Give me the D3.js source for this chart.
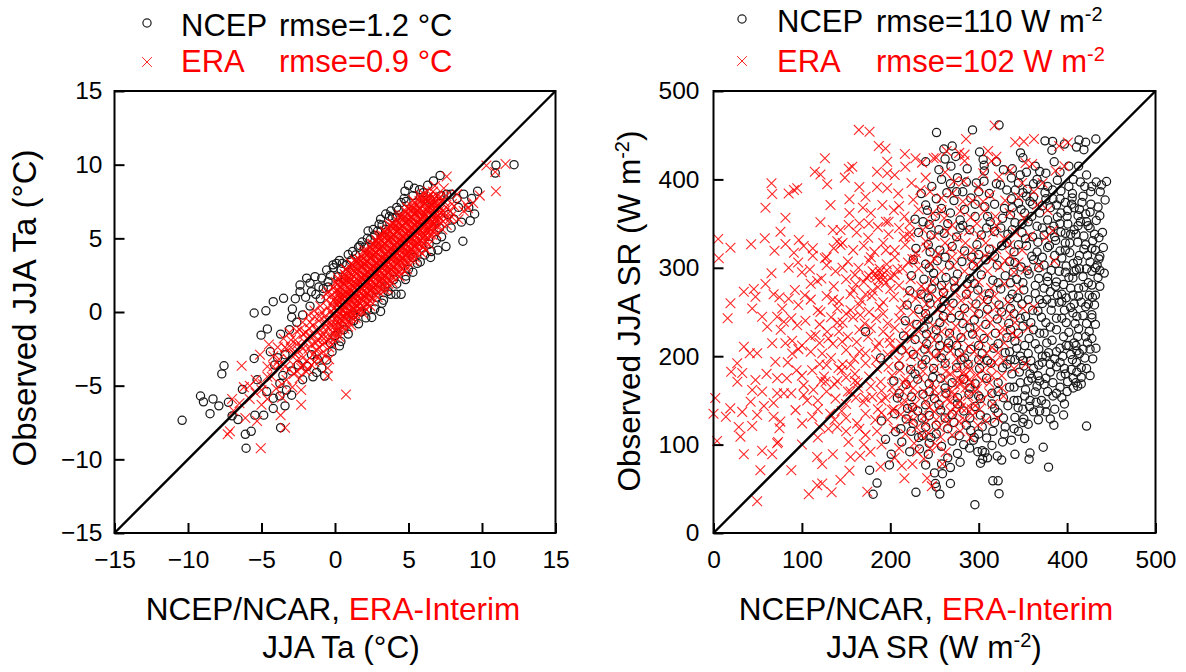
<!DOCTYPE html>
<html>
<head>
<meta charset="utf-8">
<script src="https://cdn.jsdelivr.net/npm/d3@7"></script>
<style>
    html, body { margin: 0; padding: 0; background: #fff; }
    svg { display: block; }
    text { font-family: "Liberation Sans", Arial, sans-serif; }
    .tick text { font-size: 24.5px; fill: #000; }
    .legend { font-size: 31px; }
    .title { font-size: 31.5px; }
</style>
</head>
<body>
<script>
// tick labels and limits
const taTicks = [-15, -10, -5, 0, 5, 10, 15];
const srTicks = [0, 100, 200, 300, 400, 500];
const taDomain = [-15, 15];
const srDomain = [0, 500];

// legend texts
const taLegend = [['NCEP', 'rmse=1.2 °C', ''], ['ERA', 'rmse=0.9 °C', '']];
const srLegend = [['NCEP', 'rmse=110 W m', '-2'], ['ERA', 'rmse=102 W m', '-2']];

// Ta panel, points: [reanalysis, observed]
const taNcep = [[-0.13,3.2],[-0.57,2.85],[-1.36,2.4],[-1.93,2.3],[-0.9,2.3],[-2.38,1.83],[-2.38,1.38],[-1.7,1.96],[-1.6,1.38],[-0.47,2.05],[-0.47,1.7],
[-3.5,0.93],[-4.2,0.7],[-4.7,0.08],[-5.5,-0.07],[-2.95,-0.35],[-4.6,-1.15],[-5.03,-1.57],[-5.5,-3.15],[-7.55,-3.65],[-7.7,-4.2],[-6.3,-5.25],
[-9.15,-5.7],[-8.95,-6.1],[-8.3,-5.9],[-7.9,-6.37],[-7.25,-6.13],[-8.5,-6.9],[-10.4,-7.35],[-7.0,-7.05],[-6.6,-7.3],[-5.45,-7],[-4.85,-7],
[-4.2,-6.55],[-3.4,-6.37],[-3.7,-7.85],[-5.7,-8.1],[-6.1,-8.3],[-6.05,-9.25],[-0.57,-3.26],[-0.7,-4.35],[-1.25,-4.1],[-1.9,-3.7],[-2.95,-5.65],
[-3.75,-5.7],[-4.2,-5.85],[-3.3,-5.3],[-3.75,-4.85],[-4.65,-5.4],[-5.3,-4.6],[-2.95,-4],[-3.55,-4.3],[-4.1,-3.6],[-3.4,-2.9],[-4.4,-2.7],[-3.1,-1.2],
[-2.6,-0.7],[-3.7,-1.5],[-2.2,-0.2],[-1.7,0.4],[-1,0.9],[-2.9,0.2],[-1.3,1.2],[-3.9,-3.1],[-2.5,-3.6],[-1.6,-2.9],[-2.2,-4.6],[-1.2,-3.2],
[12.18,10],[10.95,9.97],[10.9,9.43],[9.7,8.2],[9.5,6.65],[9.2,6.2],[8.7,4.8],[7.55,4.44],[7.15,9.27],[5,8.6],[4.76,8.2],[5.75,8.3],[4.5,7.43],
[3.8,6.85],[3.45,6.65],[3,5.95],[2.25,5.5],[3.45,5.6],[1.85,4.75],[1.4,3.87],[0.8,3.2],[-0.1,3],[4.15,6.45],[4.83,7.5],[7.6,8],[8.75,8],[7.25,5.1],
[6.55,4.1],[6.1,3.87],[4.5,1.2],[4.15,1.2],[3.3,0.8],[3.1,0.04],[2.5,-0.37],[1.27,-0.6],[4,2.2],[4.83,2.45],[6.3,8.6],[6.7,8.9],[5.3,7.9],[6,8.1],
[2.7,5.2],[2,4.4],[1.1,3.5],[0.4,2.9],[0.1,3.3],[2.9,5.5],[3.1,6.3],[3.9,6.4],[4.3,6.9],[1.6,4.4],[2.4,4.9],[0.9,3.9],[0.2,2.4],[1.2,-0.2],[0.6,-1.2],
[0,-1.6],[-0.3,-2.1],[0.3,-2.3],[1.8,0],[2.2,0.2],[2.8,1],[3.6,1.4],[3.4,1.7],[5,2.9],[5.6,3.3],[5.3,3.7],[6.4,4.6],[6.9,4.9],[7.1,5.7],[7.9,5.7],
[8.1,6.3],[8.6,6.1],[8.4,7.1],[7.7,6.6],[9.1,7.1],[8.3,7.7],[7.9,8],[7.2,7.9],[6.5,7.6],[9.3,7.7],
[0.5,3.3],[1.2,4.1],[1.7,4.5],[2.2,5],[2.6,5.6],[3.2,5.9],[3.7,6.5],[4.2,7.1],[4.7,7.7],[5.4,8.4],[-0.8,1.6],[-1.1,1.7],[-0.3,2.5],[0.3,3.5],[-2,1],[-2.7,0.9],
[0.9,-1.5],[1.6,-0.8],[2.1,-0.4],[2.7,0.2],[3.2,0.6],[3.8,1.2],[4.2,1.9],[4.8,2.2],[5.3,2.7],[5.8,3.4],[6.5,3.7],[7,4.2],[-0.9,-3.8],[-1.5,-4.4],[-0.2,-2.7],[0.4,-2]];

const taEra = [[-6.35,-3.65],[-5.1,-2.9],[-4.5,-2.2],[-0.4,-3.2],[-0.5,-3.8],[-0.5,-4.35],[0.75,-5.6],[-2.3,-6.3],[-3.7,-7],[-3.4,-7.85],[-7.15,-8.1],[-7.3,-8.3],
[-5.05,-9.25],[-5.3,-7.4],[-6.1,-7.2],[-6.9,-6.7],[-7,-5.9],[-6.2,-5.1],[-2.3,-5.3],[11.6,10.05],[10.3,9.95],[10.9,9.5],[10.95,8.2],[9.85,7.9],[9.4,7.4],
[7.6,9.2],[6.8,8.55],[8.3,8],[8.75,6.85],[7.4,8.4],[8.9,7.3],[8.1,7.2],[7.9,6.5],[8.4,6.3],[7.6,5.9],[9.05,7.05],
[-5.8,-5.9],[-5.4,-5.5],[-6.5,-6.2],[-5,-6.3],[-4.6,-5.9],[-4.9,-4.9],[-4.3,-4.4],[-4.6,-3.7],[-4,-5.2],[-3.6,-5.8],[-4.2,-3],[-3.9,-2.4],[-3.5,-1.8],[-3.8,-3.6],
[-3.3,-4.6],[-2.9,-5.1],[-3.2,-3.2],[-2.8,-4.2],[-3,-2.4],[-2.6,-3.3],[-3.1,-1.4],[-2.7,-1.9],[-2.4,-4.5],[-2.3,-3.8],[-2.5,-2.6],[-2.2,-3.1],[-2.4,-1.2],[-2.1,-2],
[-2,-4],[-1.9,-3.3],[-1.8,-2.5],[-2,-1.4],[-1.7,-0.7],[-1.6,-3.6],[-1.5,-2.9],[-1.6,-2.2],[-1.4,-1.6],[-1.5,-0.9],[-1.4,-0.3],[-1.2,-3],[-1.1,-2.4],[-1.2,-1.9],[-1,-1.2],
[-1.1,-0.6],[-0.9,0],[-0.9,-2.8],[-0.7,-2.1],[-0.8,-1.5],[-0.6,-0.9],[-0.7,-0.3],[-0.5,0.3],[-0.6,0.8],[-0.4,-2.4],[-0.3,-1.7],[-0.4,-1.1],[-0.2,-0.6],[-0.3,0],[-0.2,0.5],[-0.3,1.1],
[-1.9,-1.8],[-1.75,-1.1],[-1.3,-2.6],[-1.25,-1.25],[-1.05,-0.3],[-0.85,-2.2],[-0.75,-1.8],[-0.65,-1.2],[-0.5,-0.6],[-0.45,-1.9],[-0.35,-0.9],[-0.15,-1.4],[-0.15,-0.25],[-0.1,0.8],[-0.45,1.4],
[-2.8,-2.8],[-3.4,-3.7],[-2.2,-2.5],[-2.6,-2.2],[-3.3,-2.5],[-2.15,-1.5],
[0.02,-1.7],[0.12,-1.22],[-0.08,-0.98],[0.1,-0.53],[-0.03,-0.16],[-0.1,0.24],[0.13,0.6],[0.02,0.94],[0.11,1.41],[-0.12,1.63],[0.05,2.03],
[0.31,-1.24],[0.24,-0.83],[0.38,-0.47],[0.27,-0.08],[0.35,0.28],[0.26,0.64],[0.36,1.04],[0.28,1.37],[0.33,1.73],[0.25,2.14],
[0.64,-1.13],[0.57,-0.66],[0.68,-0.33],[0.55,0.04],[0.63,0.41],[0.69,0.77],[0.54,1.14],[0.61,1.47],[0.66,1.92],[0.58,2.23],[0.65,2.58],
[0.93,-0.63],[0.85,-0.17],[0.95,0.13],[0.88,0.52],[0.97,0.87],[0.84,1.23],[0.92,1.58],[0.99,2.04],[0.86,2.31],[0.94,2.72],
[1.23,-0.48],[1.14,-0.12],[1.26,0.27],[1.17,0.64],[1.28,1.03],[1.13,1.38],[1.22,1.73],[1.27,2.07],[1.16,2.53],[1.25,2.82],[1.19,3.18],
[1.53,0.03],[1.46,0.37],[1.57,0.74],[1.44,1.12],[1.55,1.47],[1.48,1.83],[1.58,2.17],[1.43,2.62],[1.52,2.88],[1.56,3.34],
[1.83,0.12],[1.74,0.54],[1.86,0.87],[1.77,1.23],[1.85,1.63],[1.73,1.97],[1.84,2.33],[1.78,2.68],[1.87,3.12],[1.75,3.42],[1.82,3.76],
[2.13,0.58],[2.05,1.02],[2.16,1.27],[2.04,1.73],[2.14,2.07],[2.08,2.44],[2.17,2.77],[2.06,3.23],[2.12,3.48],[2.15,3.93],
[2.43,0.72],[2.35,1.08],[2.46,1.53],[2.33,1.77],[2.45,2.23],[2.37,2.57],[2.44,2.94],[2.38,3.27],[2.47,3.72],[2.34,3.98],[2.42,4.42],
[2.73,1.17],[2.65,1.63],[2.76,1.87],[2.64,2.33],[2.74,2.68],[2.67,3.04],[2.77,3.37],[2.66,3.83],[2.72,4.07],[2.75,4.53],
[3.03,1.33],[2.95,1.67],[3.06,2.13],[2.94,2.37],[3.05,2.83],[2.97,3.17],[3.04,3.53],[2.96,3.87],[3.07,4.32],[2.93,4.58],[3.02,5.03],
[3.33,1.77],[3.25,2.23],[3.36,2.47],[3.24,2.93],[3.34,3.27],[3.27,3.64],[3.37,3.97],[3.26,4.43],[3.32,4.67],[3.35,5.13],
[3.63,1.92],[3.55,2.27],[3.66,2.73],[3.54,2.97],[3.65,3.43],[3.57,3.77],[3.64,4.13],[3.56,4.47],[3.67,4.93],[3.53,5.18],[3.62,5.63],
[3.93,2.37],[3.85,2.83],[3.96,3.07],[3.84,3.53],[3.94,3.87],[3.87,4.24],[3.97,4.57],[3.86,5.03],[3.92,5.27],[3.95,5.73],
[4.23,2.52],[4.15,2.87],[4.26,3.33],[4.14,3.57],[4.25,4.03],[4.17,4.37],[4.24,4.73],[4.16,5.07],[4.27,5.53],[4.13,5.78],[4.22,6.23],
[4.53,2.97],[4.45,3.43],[4.56,3.67],[4.44,4.13],[4.54,4.47],[4.47,4.84],[4.57,5.17],[4.46,5.63],[4.52,5.87],[4.55,6.33],
[4.83,3.12],[4.75,3.47],[4.86,3.93],[4.74,4.17],[4.85,4.63],[4.77,4.97],[4.84,5.33],[4.76,5.67],[4.87,6.13],[4.73,6.38],[4.82,6.83],
[5.13,3.57],[5.05,4.03],[5.16,4.27],[5.04,4.73],[5.14,5.07],[5.07,5.44],[5.17,5.77],[5.06,6.23],[5.12,6.47],[5.15,6.93],
[5.43,3.72],[5.35,4.07],[5.46,4.53],[5.34,4.77],[5.45,5.23],[5.37,5.57],[5.44,5.93],[5.36,6.27],[5.47,6.73],[5.33,6.98],[5.42,7.43],
[5.73,4.17],[5.65,4.63],[5.76,4.87],[5.64,5.33],[5.74,5.67],[5.67,6.04],[5.77,6.37],[5.66,6.83],[5.72,7.07],[5.75,7.53],
[6.03,4.42],[5.95,4.77],[6.06,5.13],[5.94,5.43],[6.05,5.83],[5.97,6.17],[6.04,6.53],[5.96,6.87],[6.07,7.33],[5.93,7.58],[6.02,8.03],
[6.33,5.02],[6.25,5.33],[6.36,5.73],[6.24,6.07],[6.34,6.43],[6.27,6.84],[6.37,7.17],[6.26,7.53],[6.32,7.83],
[6.63,5.22],[6.55,5.57],[6.66,5.93],[6.54,6.27],[6.65,6.63],[6.57,7.03],[6.64,7.33],[6.56,7.73],[6.67,8.17],
[6.93,5.83],[6.85,6.17],[6.96,6.53],[6.84,6.93],[6.94,7.23],[6.87,7.53],[6.97,7.87],
[7.23,6.03],[7.15,6.37],[7.26,6.73],[7.14,7.13],[7.24,7.43],[7.17,7.83],[7.53,6.33],[7.45,6.73],[7.56,7.13],[7.44,7.47],[7.57,7.88],[7.85,6.83],[7.95,7.33],
// second pass through the solid part of the band
[0.16,-1.43],[0.19,-1.02],[0.14,-0.68],[0.17,-0.31],[0.18,0.07],[0.15,0.42],[0.19,0.77],[0.16,1.13],[0.18,1.53],[0.14,1.86],
[0.47,-0.93],[0.43,-0.58],[0.49,-0.27],[0.44,0.14],[0.48,0.46],[0.42,0.83],[0.46,1.22],[0.43,1.63],[0.49,2.02],[0.45,2.37],
[0.76,-0.84],[0.72,-0.42],[0.78,-0.06],[0.73,0.32],[0.77,0.68],[0.71,1.03],[0.75,1.33],[0.74,1.74],[0.79,2.13],[0.72,2.48],[0.77,2.87],
[1.07,-0.28],[1.03,0.06],[1.08,0.43],[1.04,0.82],[1.06,1.14],[1.02,1.52],[1.09,1.88],[1.05,2.23],[1.03,2.63],[1.08,2.97],
[1.37,-0.13],[1.33,0.21],[1.38,0.57],[1.32,0.88],[1.36,1.27],[1.34,1.63],[1.39,2.02],[1.31,2.38],[1.37,2.77],[1.33,3.08],[1.36,3.52],
[1.67,0.27],[1.63,0.63],[1.69,0.96],[1.62,1.37],[1.66,1.72],[1.64,2.04],[1.68,2.43],[1.61,2.82],[1.67,3.17],[1.64,3.58],
[1.97,0.33],[1.93,0.76],[1.99,1.12],[1.92,1.42],[1.96,1.83],[1.94,2.17],[1.98,2.52],[1.91,2.93],[1.97,3.28],[1.93,3.63],[1.96,4.02],
[2.27,0.86],[2.23,1.24],[2.29,1.57],[2.22,1.96],[2.26,2.33],[2.24,2.67],[2.28,3.03],[2.21,3.42],[2.27,3.77],[2.23,4.16],
[2.57,0.97],[2.53,1.36],[2.59,1.72],[2.52,2.02],[2.56,2.43],[2.54,2.77],[2.58,3.13],[2.51,3.53],[2.57,3.88],[2.53,4.23],[2.56,4.63],
[2.87,1.46],[2.83,1.84],[2.89,2.17],[2.82,2.56],[2.86,2.93],[2.84,3.27],[2.88,3.63],[2.81,4.02],[2.87,4.37],[2.83,4.76],
[3.17,1.57],[3.13,1.96],[3.19,2.32],[3.12,2.62],[3.16,3.03],[3.14,3.37],[3.18,3.73],[3.11,4.13],[3.17,4.48],[3.13,4.83],[3.16,5.23],
[3.47,2.06],[3.43,2.44],[3.49,2.77],[3.42,3.16],[3.46,3.53],[3.44,3.87],[3.48,4.23],[3.41,4.62],[3.47,4.97],[3.43,5.36],
[3.77,2.17],[3.73,2.56],[3.79,2.92],[3.72,3.22],[3.76,3.63],[3.74,3.97],[3.78,4.33],[3.71,4.73],[3.77,5.08],[3.73,5.43],[3.76,5.83],
[4.07,2.66],[4.03,3.04],[4.09,3.37],[4.02,3.76],[4.06,4.13],[4.04,4.47],[4.08,4.83],[4.01,5.22],[4.07,5.57],[4.03,5.96],
[4.37,2.77],[4.33,3.16],[4.39,3.52],[4.32,3.82],[4.36,4.23],[4.34,4.57],[4.38,4.93],[4.31,5.33],[4.37,5.68],[4.33,6.03],[4.36,6.43],
[4.67,3.26],[4.63,3.64],[4.69,3.97],[4.62,4.36],[4.66,4.73],[4.64,5.07],[4.68,5.43],[4.61,5.82],[4.67,6.17],[4.63,6.56],
[4.97,3.37],[4.93,3.76],[4.99,4.12],[4.92,4.42],[4.96,4.83],[4.94,5.17],[4.98,5.53],[4.91,5.93],[4.97,6.28],[4.93,6.63],[4.96,7.03],
[5.27,3.86],[5.23,4.24],[5.29,4.57],[5.22,4.96],[5.26,5.33],[5.24,5.67],[5.28,6.03],[5.21,6.42],[5.27,6.77],[5.23,7.16],
[5.57,3.97],[5.53,4.36],[5.59,4.72],[5.52,5.02],[5.56,5.43],[5.54,5.77],[5.58,6.13],[5.51,6.53],[5.57,6.88],[5.53,7.23],
[5.87,4.46],[5.83,4.84],[5.89,5.17],[5.82,5.56],[5.86,5.93],[5.84,6.27],[5.88,6.63],[5.81,7.02],[5.87,7.37],[5.83,7.76],
[6.17,4.77],[6.13,5.16],[6.19,5.52],[6.12,5.82],[6.16,6.23],[6.14,6.57],[6.18,6.93],[6.11,7.33],[6.17,7.68],
[6.47,5.26],[6.43,5.64],[6.49,5.97],[6.42,6.36],[6.46,6.73],[6.44,7.07],[6.48,7.43],[6.41,7.82],
[6.77,5.57],[6.73,5.96],[6.79,6.32],[6.72,6.62],[6.76,7.03],[6.74,7.37],[6.78,7.73],[7.07,6.16],[7.03,6.54],[7.09,6.87],[7.02,7.26],[7.06,7.63],
// band rims and the lower tail
[0.2,2.3],[0.7,2.9],[1.1,3.3],[1.6,3.6],[2,4.2],[2.5,4.6],[3,5.2],[3.4,5.5],[3.9,6],[4.4,6.6],[4.9,7.1],[5.3,7.6],[5.8,7.9],[6.3,8.2],[3.7,5.9],[2.8,4.9],[1.4,3.4],
[0.3,-1.7],[0.9,-1],[1.4,-0.4],[1.9,-0.1],[2.4,0.4],[2.9,1],[3.4,1.5],[3.9,2],[4.4,2.4],[4.9,2.9],[5.4,3.5],[5.9,4],[6.4,4.6],[6.9,5.3],[7.3,5.6],[7.8,6.3],[1.1,-0.9],[2.1,0.2],[3.6,1.6],[4.7,2.8],[6.2,4.2],
[-1,-3.3],[-0.6,-2.9],[-0.2,-2.2],[-1.4,-3.4],[-1.8,-3.9],[-2.2,-3.6],[-2.6,-4],[-0.1,-1.9],[-0.6,1.2],[-1,0.4],[-1.4,0.1],[-1.8,-0.2],[-2.2,-0.7],[-2.6,-1.3],[-3,-1.9],[-3.4,-2.4],[-3.8,-3.2],[-4.2,-3.7],[-4.6,-4.4],[-5,-5.3],[-5.4,-4.6],[-5.8,-5],[-3.6,-4.9],[-3.1,-3.9],[-2.7,-2.9],[-1.3,-2.1],[-0.9,-1.7],[-1.7,-1.6],[-2.3,-2.3]];

// SR panel, points: [reanalysis, observed]
const srNcep = [[295.7,32],[323,44.5],[322,59],[316,59],[256,44],[252,52],[268,56],[259,67],[302,79],[304.5,83.5],[307,91],[321,87],[326,82.5],[341,89],[358,90.5],[357,83.5],
[373,97],[379,74.5],[422,121],[396,133.5],[385,122],[381,129],[356,123],[367.5,128],[351,129],[341,130.6],[344.6,141.7],[357.6,143],[369,138],[376,146],[397,146],[394,153],
[407,164],[416,168.6],[400.6,171],[432.6,209],[421,222],[428,247],[410.6,193],[411,182],[404.7,185],[393,177.7],[384,170],[381,191],[376,175],[364,159.5],[356,172],[351,189],
[332,191],[337.6,180],[340,118],[330,120],[337,105],[327,103],[316,115],[309,107.6],[315,99],[294,105],[289.7,96],[276,90],[279,80],[265,85],[250,68],[286,122],[302,133.5],[318,141],
[180.6,43.8],[185,56.5],[176.6,71],[229,46],[199,77],[201,89],[194.6,106],[206,114.6],[223.6,115],[190,126.7],[240,77],[243,89],[251,56],[236,110],[244,101.6],[172,227.7],[189,198],[208,152.7],[219.5,141],
[252.3,453],[293,456],[323,461.5],[375,443.6],[383.6,443],[382.8,433],[397,440],[413.5,444.5],[421,442],[410.6,436.6],[419,433.6],[432.5,445.6],[385.4,420],[413,415],[422,405],[415,397],[433,397],[444.6,397.6],
[438.9,393.7],[426.7,386],[437.5,386],[443,376.7],[435,368.7],[416.8,374],[405.7,379],[393,387],[389,399],[388,371],[400.6,365],[412.4,359],[423.8,347.7],[433,353.5],[437,359],[412.4,347.7],[400.8,349.6],
[389,357.4],[393,340.5],[381.3,342],[404,338],[419,336],[431,338],[429,330.5],[419,321],[437,313],[403,317],[414,314],[426,306.5],[410.4,297.8],[442,294],[428,280.5],[424,283],[406.6,288.5],[418,290],
[391,296],[387,305],[404,277],[416,261],[428.6,266.4],[431,258],[406.6,269],[389,269],[378,284.5],[391,261],[406.6,249],[428,243.5],[397,252],[372,259.6],[301,431],[305,422.5],[306.2,416],[270,437.8],
[260.6,434.4],[268.6,415],[255,411],[286,397],[297.3,396],[306.4,409.5],[328,411],[347.3,430],[350,424.5],[364,415],[369,409],[376,407],[347,405],[337,401.6],[324.6,393.7],[331.8,388],[341.4,388],[383.6,388],
// denser body, row by row from the top
[262,423],[276,402],[312,384],[354,381],[370,394],[402,392],[247,392],[264,385],[291,379],[300,386],[318,372],[361,372],[376,378],[398,374],[427,372],
[240,371],[258,367],[272,376],[284,366],[307,369],[329,367],[345,373],[352,362],[369,362],[381,368],[393,362],[408,368],[421,361],
[237,352],[251,358],[265,350],[279,354],[296,358],[313,352],[327,356],[341,351],[356,352],[366,347],[378,354],[392,350],[408,343],[422,352],
[232,340],[246,337],[261,339],[275,335],[290,343],[303,337],[318,341],[333,338],[349,340],[361,335],[374,337],[387,331],[398,328],[412,329],[436,334],[441,323],
[229,322],[243,326],[256,320],[270,324],[284,319],[298,326],[312,321],[326,325],[340,318],[354,325],[366,318],[378,323],[392,319],[407,305],[423,314],[434,303],
[226,309],[240,304],[253,308],[267,303],[281,307],[294,302],[308,309],[321,303],[335,307],[348,301],[362,309],[374,303],[382,297],[399,302],[414,299],[437,297],
[224,291],[238,287],[249,294],[263,289],[276,293],[290,288],[303,292],[316,286],[330,291],[343,287],[357,293],[368,288],[381,273],[396,281],[413,277],[425,269],[437,279],
[222,274],[235,270],[247,276],[260,272],[273,277],[286,270],[299,275],[312,271],[325,276],[338,270],[351,275],[364,271],[377,264],[399,266],[413,268],[421,256],
[219,258],[232,253],[245,260],[258,255],[271,260],[284,254],[297,259],[310,253],[323,258],[336,254],[349,259],[361,252],[382,252],[394,243],[409,237],[418,246],[432,236],[425,228],
[217,240],[230,236],[243,242],[256,238],[269,243],[282,237],[295,241],[308,236],[321,242],[334,237],[347,243],[359,238],[371,244],[381,233],[402,227],[413,231],[428,220],
[215,223],[228,219],[241,225],[254,220],[267,226],[280,221],[293,225],[306,220],[319,226],[332,221],[345,226],[357,220],[369,226],[383,218],[396,222],[408,215],[418,208],[429,197],
[213,207],[226,202],[239,208],[252,203],[265,209],[278,204],[291,208],[304,203],[317,209],[330,204],[343,209],[356,203],[368,208],[379,204],[392,209],[404,202],[422,186],
[210,189],[223,185],[236,191],[249,186],[262,192],[275,187],[288,191],[301,186],[314,192],[327,187],[341,196],[362,186],[372,193],[392,193],[416,176],[426,178],[414,203],
[204,172],[218,168],[231,174],[244,169],[257,175],[270,170],[283,174],[296,169],[309,175],[322,170],[335,165],[347,170],[369,172],[378,160],[392,165],[410,170],
[210,158],[224,154],[237,157],[250,152],[263,158],[276,153],[289,157],[302,152],[315,158],[328,153],[340,150],[352,155],[365,148],[384,155],[412,166],
[205,135],[218,129],[231,138],[244,133],[257,139],[270,134],[283,138],[296,143],[309,130],[322,136],[333,144],[362,137],[371,150],
[212,118],[226,124],[240,120],[252,112],[265,118],[278,110],[291,116],[304,120],[318,125],[329,112],[345,115],[352,107],
[233,95],[246,108],[258,98],[270,104],[283,100],[299,92],[310,85],[258,78],[268,74],[295,108],[213,103],[222,92],
// second pass, the packed right part
[345,396],[355,389],[366,400],[378,392],[392,378],[406,384],[418,381],[428,392],[337,378],[348,366],[362,380],[372,370],[384,378],[400,358],[414,366],[426,363],
[336,360],[349,350],[360,358],[372,345],[385,347],[398,339],[410,338],[426,345],[338,343],[353,333],[367,329],[380,325],[394,311],[403,328],[421,326],[432,320],
[332,328],[345,326],[360,313],[372,312],[386,314],[398,295],[412,308],[428,296],[341,306],[355,297],[368,300],[378,290],[388,284],[402,289],[422,299],[435,289],
[336,283],[350,283],[364,280],[374,277],[387,279],[394,270],[408,259],[419,278],[432,269],[344,266],[356,264],[369,264],[383,260],[394,262],[404,255],[424,259],
[340,248],[353,245],[367,251],[376,238],[388,243],[399,238],[411,245],[422,237],[336,230],[350,234],[362,230],[374,226],[388,230],[399,212],[412,222],[423,215],
[341,217],[352,212],[364,214],[377,215],[388,205],[402,212],[411,206],[420,198],[347,200],[359,195],[372,200],[386,197],[397,186],[406,196],[416,187],[335,205],
[346,182],[358,180],[367,178],[381,182],[388,188],[398,180],[407,175],[340,165],[353,162],[366,166],[374,168],[388,158],[400,160],[344,150],[358,150],[376,137],[386,140],
[320,395],[296,372],[268,395],[282,386],[306,398],[338,412],[354,408],[320,420],[287,412],[274,426],[252,378],[279,345],[309,345],[244,349],[300,315],[250,285],[287,282],[261,262],[300,248],[240,248],
[252,230],[266,215],[290,232],[241,214],[280,196],[300,196],[248,176],[262,164],[290,164],[315,146],[276,146],[240,145],[328,130],[300,112],[262,130],[225,142],[350,140],[304,93],[236,130],
// third pass
[240,420],[258,400],[275,386],[235,384],[228,355],[242,365],[255,343],[268,362],[282,348],[310,358],[325,345],[338,368],[350,385],[362,395],[245,318],[262,312],[292,312],[318,313],[339,295],[244,300],
[258,280],[272,285],[295,282],[322,283],[335,265],[243,266],[260,245],[278,246],[310,264],[326,250],[238,232],[256,212],[275,212],[300,212],[322,214],[336,196],[240,196],[258,198],[284,198],[310,195],
[350,195],[228,180],[244,160],[255,145],[272,125],[290,130],[350,125],[232,108],[252,122],[300,155],[322,160],[360,175],[368,190],[376,200],[395,200],[410,212],[426,208],[432,300],[436,310],[440,340],
[428,322],[408,296],[398,320],[386,335],[415,352],[405,372],[420,392],[407,400],[392,408],[402,415],[375,385],[358,375]];

const srEra = [[318,461],[341.3,442],[351,443],[362.5,445.7],[391,437.8],[400.8,441.7],[397,414.8],[387,409.8],[285.7,445.7],[310.6,432],[320,425.5],[314.5,420.8],[284,428],[284,420.8],[252,424.5],[263.7,432],[278,430],[305,407],[272,397.6],
[335.6,410],[353,418.6],[360.5,417.4],[372.3,396],[349,396],[362.4,386],[378,365],[383.6,342],[376,334.3],[385.4,307.7],[368,302],[362.4,255.7],[353,191],[321,130],[299,122],[262.7,91.6],[253,99],[270,110.8],[257,108.6],[247,53],
[328,154.7],[326,164],[318,193],[312,170],[286,141],[274,143],[268,148.7],[303,150],
[16,243],[34.4,210.8],[41,203.4],[49.4,203.4],[26.8,192],[20,182.5],[32.5,181],[27,171],[2,152.7],[0,135],[14,131.5],[19,141],[32.5,137],[47.5,173],[43.8,161.8],[55,160],[42,148.5],[57,143.7],[49.4,133.5],[28.6,120],[43.8,121],[30.5,109],[4,104],
[34.3,89],[55,93],[66.4,89],[72,101.6],[53,71],[88,71],[49.4,36],[107.8,43.8],[117.3,54],[123,56],[133.6,46],[143.6,60],[153.8,70.5],[123,78],[117.3,86],[135,89],[155,86],[166,87.4],[177.6,92],[189,75],[174,46.7],[216,62],[241.7,62],[225,78],[227,101.6],[230.4,92],
[73,103],[74.6,118.6],[75.6,126],[68,131.6],[72,158],[79.6,158],[68,147],[92.8,139],[100.3,124],[111.6,131.6],[106,150],[102,156],[83,175],[111.6,184],[102,167],[126.7,171],[141.4,186.6],[155,160],[172,152.7],[179.5,154],[140,120],[152.7,103],[172,111],[162.5,124],[183,127.8],[194.6,152.7],[202,139],
[94.7,235],[66.4,214.6],[81.4,214.6],[89,217.5],[115.4,224],[128.6,227.7],[145.6,216.4],[166,246.6],[60.8,233.4],[55,244.7],[72,244.7],[79.6,239],[89,203],[123,203],[70,193.8],
[164.4,456],[176.5,454],[187,437.8],[194.6,435],[126,424],[114.6,408.7],[121,405.6],[157,414.4],[153,412],[148.6,402],[128.6,394.5],[165,391.4],[185,408.7],[196.5,420],[196.5,407],[185,391.4],[196.5,390],[216.5,428.7],[228.5,424],[217,414.4],[236,419],[249,424],
[65.6,395.6],[66.4,383.5],[58.8,368],[85,384],[91,388],[94.7,390],[132.4,371],[153.8,377.5],[153.8,362],[172,380.4],[169,368],[81.4,356.7],[121,351.5],[75.8,340.8],[58,333.4],[42.6,326.6],[19.2,322.7],[5.3,332.6],[6,310.7],[81.4,327],[96.5,331.4],[102,324.7],
[69,319.4],[91,317],[95.8,306],[112.3,322],[112.3,313.7],[126,310.7],[136,322],[143.7,325.8],[109,298],[65.6,293.8],[117.3,285],[138,296],[58.8,281.7],[34.3,273],[45.6,276],[47.5,267.3],[103.3,269],[19.2,259.8],[43.8,254],[74.6,266.6],[77.7,254],[121,250],[140,254],[135,342.8],[143.7,342.8],[153,348.4],[175.7,350],
// denser body, row by row from the top
[205,405],[224,396],[240,402],[262,408],[283,398],[300,391],[323,403],[209,384],[226,377],[245,386],[258,379],[270,384],[293,376],[313,382],[330,376],[345,380],[366,371],
[178,362],[191,371],[204,365],[216,358],[232,366],[248,362],[261,356],[279,364],[291,357],[306,364],[319,358],[335,362],[351,356],
[162,340],[175,334],[186,346],[198,338],[210,345],[222,335],[237,343],[250,336],[264,341],[276,334],[289,342],[301,336],[316,340],[329,333],[342,340],[358,336],
[146,328],[158,320],[170,325],[182,318],[192,328],[205,320],[217,326],[229,317],[241,323],[254,316],[268,322],[281,315],[294,320],[307,314],[320,321],[336,314],[349,320],
[128,303],[152,307],[164,300],[176,308],[188,299],[196,304],[208,298],[220,306],[232,299],[245,304],[258,296],[271,302],[284,296],[297,303],[310,296],[324,301],[340,295],[353,298],
[122,288],[136,279],[150,287],[161,281],[173,289],[183,293],[187,286],[191,292],[195,283],[200,289],[210,280],[223,287],[235,279],[248,285],[261,278],[274,283],[287,277],[300,284],[314,277],[329,282],[345,276],
[96,258],[110,264],[128,268],[142,262],[155,270],[167,263],[179,268],[192,261],[204,267],[216,260],[229,265],[241,259],[254,264],[267,258],[280,263],[293,257],[306,262],[320,256],[333,261],[350,254],
[88,243],[104,240],[120,236],[133,244],[146,238],[158,244],[171,237],[184,243],[197,237],[210,243],[222,236],[235,241],[248,235],[261,240],[274,234],[287,239],[300,233],[313,238],[327,232],[341,238],[356,232],
[100,212],[110,205],[135,214],[150,207],[162,216],[175,222],[187,215],[199,221],[212,214],[224,220],[237,213],[250,218],[263,212],[276,217],[289,211],[302,216],[315,210],[329,215],[343,222],
[84,193],[94,184],[120,191],[133,198],[146,191],[159,197],[172,203],[184,196],[197,202],[210,195],[223,200],[236,193],[249,199],[262,192],[275,197],[288,190],[301,196],[314,189],[328,195],[340,186],
[72,175],[125,177],[137,168],[150,176],[163,170],[176,177],[189,171],[202,178],[215,170],[217,174],[221,168],[234,175],[247,169],[260,174],[273,168],[281,172],[285,164],[292,170],[298,163],[312,158],[326,178],
[113,162],[138,152],[150,146],[161,153],[190,150],[204,157],[216,150],[228,156],[240,149],[252,155],[264,151],[272,156],[279,150],[288,155],[294,146],[301,140],[316,146],
[118,140],[132,135],[172,135],[186,140],[197,128],[212,134],[225,139],[238,132],[250,137],[263,131],[275,136],[284,128],[293,133],[308,127],
[165,118],[204,118],[217,112],[230,119],[243,113],[255,120],[265,124],[279,115],[291,108],[245,96],[238,84],[210,96],[213,76],[259,78],
// second pass, the clusters
[180,296],[184,289],[188,295],[192,287],[176,291],[196,297],[170,284],[205,292],[214,299],[200,276],[186,278],[155,252],[165,258],[176,250],[188,256],[130,220],[142,228],[152,222],[165,230],
[178,232],[192,228],[205,232],[218,226],[232,228],[245,224],[258,228],[268,226],[282,224],[296,226],[310,224],[325,226],[338,226],[205,208],[218,206],[230,205],[243,207],[256,204],[268,206],[282,202],[295,205],[309,203],[322,204],
[172,192],[185,186],[198,188],[211,184],[224,186],[237,183],[250,186],[263,183],[276,186],[283,182],[290,184],[298,179],[304,184],[315,178],[268,180],[276,175],[284,178],[279,168],[290,174],[296,160],[304,172],[270,160],
[152,160],[164,164],[178,166],[190,161],[202,165],[214,160],[226,164],[238,160],[250,162],[262,160],[190,136],[214,145],[228,146],[244,142],[256,144],[268,138],[280,142],[292,140],[204,140],[226,128],[240,124],[252,128],[278,126],
[212,252],[226,250],[240,250],[254,252],[268,250],[282,250],[296,248],[310,248],[324,246],[336,248],[180,274],[220,272],[232,270],[246,272],[260,270],[274,272],[288,268],[302,270],[318,268],
[205,312],[228,310],[250,310],[270,312],[292,308],[315,310],[330,308],[345,306],[215,335],[240,330],[262,328],[285,328],[308,328],[335,326],[198,352],[222,350],[246,350],[270,348],[298,350],[320,348],[305,375],[282,375],[258,365],[234,388],
// third pass, left of the cloud
[60,180],[88,158],[118,150],[100,178],[128,190],[110,222],[140,238],[118,252],[135,264],[150,248],[92,275],[110,282],[128,312],[146,300],[160,292],[172,270],[122,172],[145,184],[160,180],[170,148],
[150,130],[130,118],[118,108],[100,100],[145,138],[184,210],[165,205],[155,190],[200,215],[192,248],[178,312],[165,350],[140,330],[195,352],[210,370],[225,310],[240,275],[222,340],[195,320],[158,275],
[96,208],[85,265],[160,172],[120,215],[76,230],[68,270],[100,295],[85,300],[140,172],[190,100],[205,85],[220,128],[235,110],[128,160],[137,128],[170,100],[185,115],[150,115],[120,120]];

const fmtLabel = d => String(d).replace('-', '−');

// one scatter panel
function drawPanel(svg, opt){
    const x = d3.scaleLinear().domain(opt.domain).range([opt.left, opt.right]);
    const y = d3.scaleLinear().domain(opt.domain).range([533, 91]);

    const g = svg.append('g');

    // ncep circles, era crosses on top, 1:1 line last
    g.append('g').selectAll('circle').data(opt.ncep).join('circle')
        .attr('cx', d=>x(d[0])).attr('cy', d=>y(d[1])).attr('r', 4.1)
        .attr('fill', 'none').attr('stroke', '#1a1a1a').attr('stroke-width', 1.25);
    const cross = d3.symbol().type(d3.symbolTimes).size(64);
    g.append('g').selectAll('path').data(opt.era).join('path')
        .attr('d', cross)
        .attr('transform', d=>`translate(${x(d[0])},${y(d[1])})`)
        .attr('fill', 'none').attr('stroke', '#f00').attr('stroke-width', 1.1).attr('stroke-opacity', 0.85);
    g.append('line')
        .attr('x1', x(opt.domain[0])).attr('y1', y(opt.domain[0]))
        .attr('x2', x(opt.domain[1])).attr('y2', y(opt.domain[1]))
        .attr('stroke', '#000').attr('stroke-width', 2.4);

    // frame and axes
    g.append('rect')
        .attr('x', opt.left).attr('y', 91)
        .attr('width', opt.right-opt.left).attr('height', 442)
        .attr('fill', 'none').attr('stroke', '#000').attr('stroke-width', 2);
    const xAxis = g.append('g').attr('transform', 'translate(0,533)')
        .call(d3.axisBottom(x).tickValues(opt.ticks).tickFormat(fmtLabel).tickSizeInner(-10).tickSizeOuter(0).tickPadding(18));
    const yAxis = g.append('g').attr('transform', `translate(${opt.left},0)`)
        .call(d3.axisLeft(y).tickValues(opt.ticks).tickFormat(fmtLabel).tickSizeInner(-10).tickSizeOuter(0).tickPadding(opt.yPad));
    [xAxis, yAxis].forEach(a=>{
        a.select('.domain').remove();
        a.selectAll('.tick line').attr('stroke', '#000').attr('stroke-width', 2);
    });

    // legend
    opt.legend.forEach((row, i)=>{
        const color = i==0 ? '#000' : '#f00';
        const base = opt.legendY[i];
        if(i==0){
            g.append('circle').attr('cx', opt.markX).attr('cy', opt.markY[i]).attr('r', 4.1)
                .attr('fill', 'none').attr('stroke', '#222').attr('stroke-width', 1.25);
        } else {
            g.append('path').attr('d', cross)
                .attr('transform', `translate(${opt.markX},${opt.markY[i]})`)
                .attr('fill', 'none').attr('stroke', '#f00').attr('stroke-opacity', 0.85);
        }
        g.append('text').attr('class', 'legend').attr('x', opt.nameX).attr('y', base).attr('fill', color).text(row[0]);
        const t = g.append('text').attr('class', 'legend').attr('x', opt.rmseX).attr('y', base).attr('fill', color);
        t.append('tspan').text(row[1]);
        if(row[2]) t.append('tspan').attr('dy', -11).attr('font-size', 20).text(row[2]);
    });

    // axis titles
    const t1 = g.append('text').attr('class', 'title')
        .attr('x', opt.titleX).attr('y', 620).attr('text-anchor', 'middle');
    t1.append('tspan').attr('fill', '#000').text('NCEP/NCAR, ');
    t1.append('tspan').attr('fill', '#f00').text('ERA-Interim');
    const t2 = g.append('text').attr('class', 'title')
        .attr('x', opt.titleX+8).attr('y', 658).attr('text-anchor', 'middle');
    t2.append('tspan').text(opt.xName);
    if(opt.unitSup){
        t2.append('tspan').attr('dy', -11).attr('font-size', 20).text(opt.unitSup);
        t2.append('tspan').attr('dy', 11).text(')');
    }
    const t3 = g.append('text').attr('class', 'title').attr('text-anchor', 'middle')
        .attr('font-size', opt.yTitleSize).style('font-size', opt.yTitleSize+'px')
        .attr('transform', `translate(${opt.yTitleX},${opt.yTitleY}) rotate(-90)`);
    t3.append('tspan').text(opt.yName);
    if(opt.unitSup){
        t3.append('tspan').attr('dy', -11).attr('font-size', 20).text(opt.unitSup);
        t3.append('tspan').attr('dy', 11).text(')');
    }
}

const svg = d3.select('body').append('svg').attr('width', 1186).attr('height', 672);

drawPanel(svg, {
    domain: taDomain, ticks: taTicks, ncep: taNcep, era: taEra, legend: taLegend,
    left: 114.5, right: 555.5, yPad: 12, titleX: 333,
    markX: 147, markY: [23, 62], legendY: [36, 72], nameX: 181, rmseX: 279,
    xName: 'JJA Ta (°C)', yName: 'Observed JJA Ta (°C)',
    yTitleX: 36, yTitleY: 308, yTitleSize: 33
});

drawPanel(svg, {
    domain: srDomain, ticks: srTicks, ncep: srNcep, era: srEra, legend: srLegend,
    left: 713.5, right: 1155.5, yPad: 14, titleX: 926,
    markX: 742, markY: [19, 61], legendY: [32, 72], nameX: 777, rmseX: 876,
    xName: 'JJA SR (W m', yName: 'Observed JJA SR (W m', unitSup: '-2',
    yTitleX: 640, yTitleY: 311, yTitleSize: 31.5
});
</script>
</body>
</html>
